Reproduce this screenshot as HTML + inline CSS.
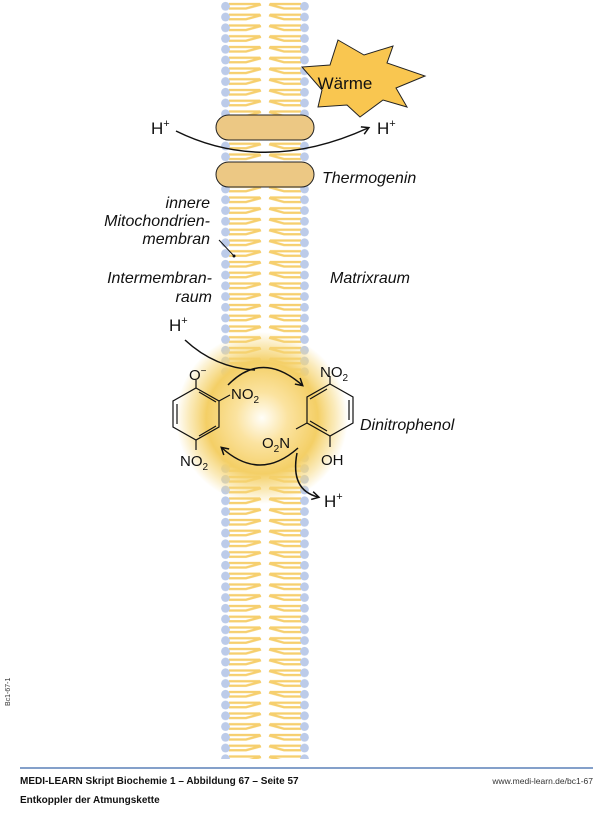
<!DOCTYPE html>
<html><head><meta charset="utf-8"><style>
body{margin:0;background:#fff;width:600px;height:808px;overflow:hidden;font-family:"Liberation Sans",sans-serif}
</style></head><body>
<svg width="600" height="808" viewBox="0 0 600 808" xmlns="http://www.w3.org/2000/svg" font-family="Liberation Sans, sans-serif">
<defs>
<pattern id="lip" x="0" y="1" width="600" height="10.75" patternUnits="userSpaceOnUse">
<g fill="none" stroke="#f6cf6e" stroke-width="2.4">
<path d="M229 3 H260 M229 7.5 H246 L261 3.5"/>
<path d="M301 3 H270 M301 7.5 H284 L269 3.5"/>
</g>
<circle cx="225.5" cy="5.3" r="4.4" fill="#bccbe9"/>
<circle cx="304.5" cy="5.3" r="4.4" fill="#bccbe9"/>
</pattern>
<radialGradient id="glow" cx="0.5" cy="0.5" r="0.5">
<stop offset="0" stop-color="#fffef8"/>
<stop offset="0.3" stop-color="#fbe3a0"/>
<stop offset="0.65" stop-color="#f4cf66"/>
<stop offset="0.85" stop-color="#f6d676" stop-opacity="0.5"/>
<stop offset="1" stop-color="#f6d676" stop-opacity="0"/>
</radialGradient>
<marker id="ar" markerWidth="10" markerHeight="10" refX="7" refY="5" orient="auto" markerUnits="userSpaceOnUse">
<path d="M1 1 L8 5 L1 9" fill="none" stroke="#111" stroke-width="1.5"/>
</marker>
</defs>
<rect x="218" y="0" width="94" height="759" fill="url(#lip)"/>
<circle cx="262" cy="418" r="86" fill="url(#glow)"/>
<polygon points="338,40 364,55 393,46 387,63 425,76 396,88 407,107 383,100 360,117 347,105 318,107 322,90 302,67 330,65" fill="#f9c650" stroke="#222" stroke-width="1"/>
<text x="345" y="89" font-size="17" text-anchor="middle" fill="#111">Wärme</text>
<rect x="216" y="115" width="98" height="25" rx="12.5" fill="#ecc884" stroke="#222" stroke-width="1"/>
<rect x="216" y="162" width="98" height="25" rx="12.5" fill="#ecc884" stroke="#222" stroke-width="1"/>
<path d="M176 131 Q265 175 368 128" fill="none" stroke="#111" stroke-width="1.5" marker-end="url(#ar)"/>
<g font-size="17" fill="#111">
<text x="151" y="134">H<tspan font-size="11" dy="-7">+</tspan></text>
<text x="377" y="134">H<tspan font-size="11" dy="-7">+</tspan></text>
<text x="169" y="331">H<tspan font-size="11" dy="-7">+</tspan></text>
<text x="324" y="507">H<tspan font-size="11" dy="-7">+</tspan></text>
</g>
<g font-size="16" font-style="italic" fill="#111">
<text x="322" y="183">Thermogenin</text>
<text x="210" y="208" text-anchor="end">innere</text>
<text x="210" y="226" text-anchor="end">Mitochondrien-</text>
<text x="210" y="244" text-anchor="end">membran</text>
<text x="212" y="283" text-anchor="end">Intermembran-</text>
<text x="212" y="302" text-anchor="end">raum</text>
<text x="330" y="283">Matrixraum</text>
<text x="360" y="430">Dinitrophenol</text>
</g>
<line x1="219" y1="240" x2="234" y2="256" stroke="#111" stroke-width="1"/>
<circle cx="234" cy="256" r="1.5" fill="#111"/>
<path d="M185 340 Q215 368 255 370" fill="none" stroke="#111" stroke-width="1.5"/>
<path d="M228 385 Q262 350 302 385" fill="none" stroke="#111" stroke-width="1.5" marker-end="url(#ar)"/>
<path d="M298 448 Q260 482 222 448" fill="none" stroke="#111" stroke-width="1.5" marker-end="url(#ar)"/>
<path d="M297 453 Q290 490 318 497" fill="none" stroke="#111" stroke-width="1.5" marker-end="url(#ar)"/>
<g fill="none" stroke="#111" stroke-width="1.2">
<polygon points="196,388 219,401 219,427 196,440 173,427 173,401"/>
<path d="M177 404 V424 M199 392 L216 402 M199 436 L216 426"/>
<path d="M196 388 V380 M219 401 L230 395 M196 440 V450"/>
<polygon points="330,384 353,397 353,423 330,436 307,423 307,397"/>
<path d="M349 400 V420 M310 399 L327 389 M310 421 L327 431"/>
<path d="M330 384 V376 M307 423 L296 429 M330 436 V447"/>
</g>
<g font-size="15" fill="#111">
<text x="189" y="380">O<tspan font-size="10" dy="-6">−</tspan></text>
<text x="231" y="399">NO<tspan font-size="10" dy="4">2</tspan></text>
<text x="180" y="466">NO<tspan font-size="10" dy="4">2</tspan></text>
<text x="320" y="377">NO<tspan font-size="10" dy="4">2</tspan></text>
<text x="262" y="448">O<tspan font-size="10" dy="4">2</tspan><tspan dy="-4">N</tspan></text>
<text x="321" y="465">OH</text>
</g>
<text x="10" y="706" font-size="7" fill="#333" transform="rotate(-90 10 706)">Bc1-67-1</text>
<line x1="20" y1="768" x2="593" y2="768" stroke="#5b80b8" stroke-width="1.5"/>
<text x="20" y="784" font-size="10" font-weight="bold" fill="#111">MEDI-LEARN Skript Biochemie 1 – Abbildung 67 – Seite 57</text>
<text x="593" y="784" font-size="8.5" fill="#333" text-anchor="end">www.medi-learn.de/bc1-67</text>
<text x="20" y="803" font-size="10" font-weight="bold" fill="#111">Entkoppler der Atmungskette</text>
</svg>
</body></html>
